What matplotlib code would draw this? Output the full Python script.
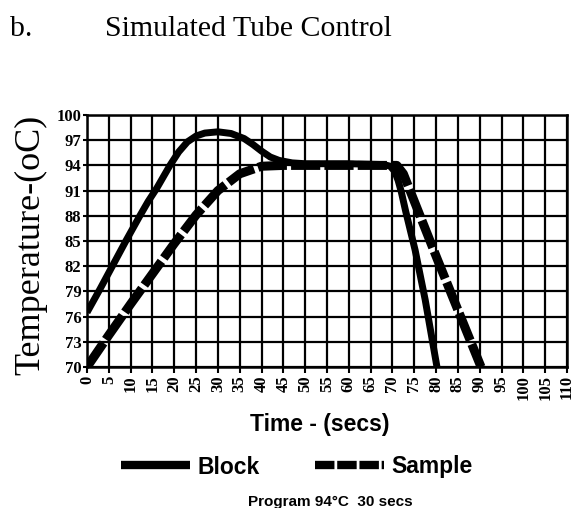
import numpy as np
import matplotlib
matplotlib.use("Agg")
import matplotlib.pyplot as plt

# time (s) / temperature (C)
block_t = [0, 3, 6, 9, 12, 14, 16, 19, 21, 23, 25, 27, 30, 33, 36, 38, 40, 42, 44, 47, 50,
           60, 68, 69.5, 70.5, 71.3, 72, 73, 75.2, 77.5, 80.2]
block_y = [76.5, 79.3, 82.2, 85.1, 87.9, 89.7, 91.3, 94, 95.6, 96.8, 97.5, 97.85, 98, 97.8,
           97.2, 96.5, 95.7, 95, 94.6, 94.3, 94.2, 94.2, 94.1, 93.9, 93.3, 92.2, 90.9, 88.6,
           83.9, 78, 70]

sample_t = [0, 5, 10, 15, 20, 25, 30, 35, 40, 45, 55, 65, 71, 72.5, 80.3, 90.3]
sample_y = [70, 73.8, 77.5, 81.1, 84.7, 88.1, 91, 93, 93.9, 94, 94, 94, 94, 93, 82.8, 70]

x_ticks = list(range(0, 115, 5))
y_ticks = list(range(70, 101, 3))

serif = "Liberation Serif"
sans = "Liberation Sans"
plt.rcParams["lines.scale_dashes"] = False

fig = plt.figure(figsize=(5.71, 5.08), dpi=100)
ax = fig.add_axes([0.1524, 0.2776, 0.8406, 0.496])

ax.plot(block_t, block_y, color="black", lw=5.0, solid_capstyle="butt",
        solid_joinstyle="round", label="Block", zorder=3)
ax.plot(sample_t, sample_y, color="black", lw=6.5, dashes=(21, 3), dash_capstyle="butt",
        label="Sample", zorder=4)

ax.set_xlim(0, 110)
ax.set_ylim(70, 100)
ax.set_xticks(x_ticks)
ax.set_yticks(y_ticks)
ax.set_xticklabels([str(v) for v in x_ticks], rotation=90, fontfamily=serif,
                   fontweight="bold", fontsize=12)
ax.set_yticklabels([str(v) for v in y_ticks], fontfamily=serif, fontweight="bold",
                   fontsize=12)
ax.tick_params(axis="x", length=4, width=1.5, pad=2, color="black")
ax.tick_params(axis="y", length=3, width=1.5, pad=1, color="black")
ax.grid(True, color="black", lw=1.6)
for s in ax.spines.values():
    s.set_linewidth(1.8)

fig.text(10 / 571, 1 - 36 / 508, "b.", fontfamily=serif, fontsize=21.5, va="baseline")
fig.text(105 / 571, 1 - 36 / 508, "Simulated Tube Control", fontfamily=serif, fontsize=21.5,
         va="baseline")
fig.text(31 / 571, 1 - 245 / 508, "Temperature-(oC)", fontfamily=serif, fontsize=26,
         rotation=90, ha="center", va="center")
fig.text(320 / 571, 1 - 424 / 508, "Time - (secs)", fontfamily=sans, fontweight="bold",
         fontsize=16.5, ha="center", va="center")
fig.text(330 / 571, 1 - 495 / 508, "Program 94\u00b0C  30 secs", fontfamily=sans,
         fontweight="bold", fontsize=11, ha="center", va="top")

leg = fig.legend(loc="center", bbox_to_anchor=(297 / 571, 1 - 467 / 508), ncol=2,
                 frameon=False, handlelength=3.0, columnspacing=2.4, handletextpad=0.35,
                 borderpad=0, prop={"family": sans, "weight": "bold", "size": 16.5})
for ln in leg.get_lines():
    ln.set_linewidth(6)
leg.get_lines()[1].set_dashes((14, 2))

fig.savefig("out.png", dpi=100)
